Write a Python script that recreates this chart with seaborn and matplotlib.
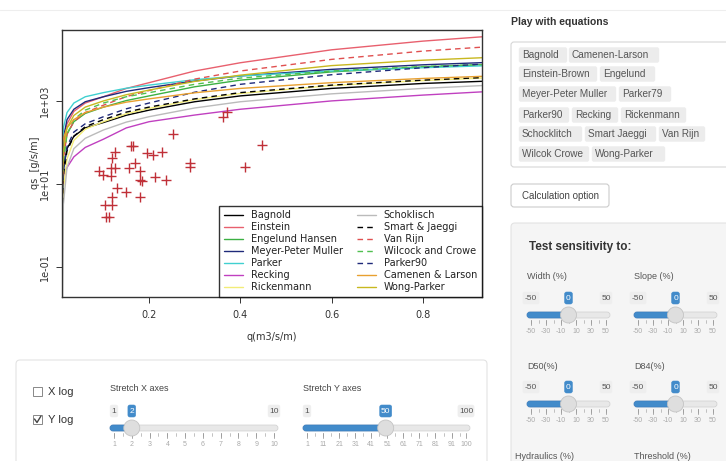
import matplotlib
matplotlib.use("Agg")
import matplotlib.pyplot as plt
from matplotlib.patches import FancyBboxPatch, Rectangle, Circle
from matplotlib.ticker import NullLocator
import pandas as pd
import seaborn as sns

W, H = 726, 461

q_grid = [0.009, 0.012, 0.02, 0.035, 0.06, 0.1, 0.15, 0.2, 0.3, 0.4, 0.6, 0.8, 0.95]

# sediment transport qs (g/s/m) for each equation
bagnold = [7.9, 25, 71, 141, 224, 302, 452, 600, 955, 1320, 2000, 2630, 3020]
einstein = [6.3, 79, 280, 560, 890, 1260, 1995, 2750, 5250, 8300, 17000, 27500, 36300]
engelund_hansen = [10, 50, 158, 316, 500, 710, 1020, 1320, 2190, 3160, 5000, 6600, 7600]
meyer_peter_muller = [16, 126, 355, 630, 955, 1260, 1700, 2090, 3020, 4000, 5750, 7400, 8500]
parker = [40, 224, 525, 890, 1260, 1585, 2020, 2400, 3240, 4000, 5250, 6300, 7100]
recking = [7.9, 14, 25, 45, 76, 120, 224, 316, 457, 630, 1000, 1380, 1700]
rickenmann = [0.5, 7.9, 40, 112, 209, 316, 490, 660, 1070, 1510, 2340, 3090, 3630]
schoklisch = [0.001, 3.2, 25, 71, 126, 200, 309, 417, 676, 955, 1480, 2000, 2400]
smart_jaeggi = [2.0, 16, 63, 141, 240, 355, 537, 710, 1120, 1585, 2400, 3160, 3720]
van_rijn = [3.2, 40, 160, 316, 525, 790, 1270, 1780, 3350, 5250, 10000, 15800, 20400]
wilcock_crowe = [4.0, 32, 158, 355, 600, 890, 1260, 1580, 2510, 3550, 5250, 6760, 7600]
parker90 = [2.5, 20, 79, 178, 282, 417, 646, 890, 1620, 2510, 4270, 6300, 7940]
camenen_larson = [63, 126, 224, 355, 525, 710, 933, 1120, 1570, 2000, 2750, 3470, 3980]
wong_parker = [6.3, 63, 224, 447, 710, 1000, 1410, 1820, 2950, 4170, 7080, 9550, 11200]

# field measurements (red crosses)
obs_q = [0.091, 0.100, 0.116, 0.116, 0.125, 0.118, 0.125, 0.165, 0.160, 0.169,
         0.157, 0.180, 0.180, 0.184, 0.180, 0.195, 0.209, 0.228, 0.213, 0.237,
         0.253, 0.289, 0.289, 0.363, 0.371, 0.411, 0.448, 0.129, 0.149, 0.118,
         0.103, 0.118, 0.105, 0.113]
obs_qs = [20, 16.6, 15.5, 24, 24, 42, 60, 83, 83, 32,
          24, 20, 12.6, 11.5, 4.9, 55, 50, 58, 15, 12.3,
          158, 32, 25, 417, 550, 26, 87, 8.1, 6.5, 4.9,
          3.2, 3.2, 1.6, 1.6]

# name, values, colour, dashed
equations = [
    ("Bagnold", bagnold, "#000000", False),
    ("Einstein", einstein, "#E8606E", False),
    ("Engelund Hansen", engelund_hansen, "#3CB043", False),
    ("Meyer-Peter Muller", meyer_peter_muller, "#1F2A7A", False),
    ("Parker", parker, "#40D0D0", False),
    ("Recking", recking, "#C040C0", False),
    ("Rickenmann", rickenmann, "#F2EC78", False),
    ("Schoklisch", schoklisch, "#BBBBBB", False),
    ("Smart & Jaeggi", smart_jaeggi, "#000000", True),
    ("Van Rijn", van_rijn, "#E05050", True),
    ("Wilcock and Crowe", wilcock_crowe, "#50C050", True),
    ("Parker90", parker90, "#1F2A7A", True),
    ("Camenen & Larson", camenen_larson, "#E8A030", False),
    ("Wong-Parker", wong_parker, "#C8B820", False),
]

sns.set_theme(style="white")
plt.rcParams['font.family'] = ['DejaVu Sans']

fig = plt.figure(figsize=(W / 100, H / 100), dpi=100)

# full-figure axes in pixel units for the app widgets around the plot
ui = fig.add_axes([0, 0, 1, 1])
ui.set_xlim(0, W)
ui.set_ylim(H, 0)
ui.axis('off')

UIFONT = ['Liberation Sans', 'DejaVu Sans']


def rbox(x0, y0, x1, y1, fc, ec, r=3, lw=0.8, z=1):
    ui.add_patch(FancyBboxPatch((x0, y0), x1 - x0, y1 - y0,
                                boxstyle=f"round,pad=0,rounding_size={r}",
                                fc=fc, ec=ec, lw=lw, zorder=z))


def label(x, y, s, size=7.5, color='#333333', ha='left', weight='normal', z=3):
    ui.text(x, y, s, fontsize=size, color=color, ha=ha, va='center',
            fontweight=weight, family=UIFONT, zorder=z)


def slider(x0, x1, ybar, vmin, vmax, val, ticks, minor_step):
    a, b = x0 + 4, x1 - 4
    pos = lambda v: a + (v - vmin) / (vmax - vmin) * (b - a)
    rbox(x0, ybar - 3, x1, ybar + 3, '#e8e8e8', '#cfcfcf', r=3, lw=0.5, z=2)
    kx = pos(val)
    rbox(x0, ybar - 3, kx, ybar + 3, '#428bca', '#3b7dc0', r=3, lw=0.5, z=2)
    ui.add_patch(Circle((kx, ybar), 8, fc='#dedede', ec='#c4c4c4', lw=0.6, zorder=4))
    # min / max / value badges
    for v, fc, tc in [(vmin, '#eeeeee', '#555555'), (vmax, '#eeeeee', '#555555'),
                      (val, '#428bca', 'white')]:
        x = pos(v)
        s = str(v)
        w = 3.5 + 4.2 * len(s)
        rbox(x - w / 2, ybar - 23, x + w / 2, ybar - 11, fc, fc, r=2, lw=0.4, z=3)
        label(x, ybar - 17, s, size=6, color=tc, ha='center', z=5)
    # tick marks and labels
    v = vmin
    while v <= vmax:
        ui.plot([pos(v), pos(v)], [ybar + 5, ybar + 8], color='#aaaaaa', lw=0.5, zorder=2)
        v += minor_step
    for t in ticks:
        ui.plot([pos(t), pos(t)], [ybar + 5, ybar + 10], color='#999999', lw=0.6, zorder=2)
        label(pos(t), ybar + 16, str(t), size=5, color='#aaaaaa', ha='center')


# faint top rule
ui.plot([0, W], [10, 10], color='#eeeeee', lw=0.8)

# right column: equation picker
label(511, 22, "Play with equations", size=7.5, color='#333333', weight='bold')
rbox(511, 42, 740, 167, 'white', '#d6d6d6', r=3, lw=0.8)
tags = [
    [("Bagnold", 519, 567), ("Camenen-Larson", 569, 659)],
    [("Einstein-Brown", 519, 597), ("Engelund", 600, 655)],
    [("Meyer-Peter Muller", 519, 616), ("Parker79", 619, 671)],
    [("Parker90", 519, 569), ("Recking", 572, 618), ("Rickenmann", 621, 686)],
    [("Schocklitch", 519, 582), ("Smart Jaeggi", 585, 656), ("Van Rijn", 659, 705)],
    [("Wilcok Crowe", 519, 589), ("Wong-Parker", 592, 665)],
]
for row, yc in zip(tags, [55, 74, 94, 115, 134, 154]):
    for s, xa, xb in row:
        rbox(xa, yc - 7.5, xb, yc + 7.5, '#ececec', '#ececec', r=2, lw=0.3, z=2)
        label(xa + 3, yc, s, size=7.2, color='#555555')

rbox(511, 184, 609, 207, 'white', '#cccccc', r=3, lw=0.8)
label(560, 196, "Calculation option", size=7, color='#444444', ha='center')

# sensitivity panel
rbox(511, 223, 745, 475, '#f5f5f5', '#e3e3e3', r=4, lw=0.8, z=0)
label(529, 247, "Test sensitivity to:", size=8.5, color='#333333', weight='bold')
sens = [("Width (%)", 527, 276, 315), ("Slope (%)", 634, 276, 315),
        ("D50(%)", 527, 366, 404), ("D84(%)", 634, 366, 404)]
for name, x0, ylab, ybar in sens:
    label(x0, ylab, name, size=6.5, color='#555555')
    slider(x0, x0 + 83, ybar, -50, 50, 0, [-50, -30, -10, 10, 30, 50], 10)
label(515, 456, "Hydraulics (%)", size=6.5, color='#555555')
label(634, 456, "Threshold (%)", size=6.5, color='#555555')

# bottom panel: axis options
rbox(16, 360, 487, 480, 'white', '#e3e3e3', r=4, lw=0.8, z=0)
ui.add_patch(Rectangle((33, 387), 9, 9, fc='white', ec='#888888', lw=0.7, zorder=3))
label(48, 392, "X log", size=8, color='#333333')
ui.add_patch(Rectangle((33, 415), 9, 9, fc='white', ec='#888888', lw=0.7, zorder=3))
ui.plot([34.5, 37, 41], [419, 422.5, 416], color='#444444', lw=1.0, zorder=4)
label(48, 420, "Y log", size=8, color='#333333')

label(110, 388, "Stretch X axes", size=6.5, color='#444444')
slider(110, 278, 428, 1, 10, 2, list(range(1, 11)), 0.5)
label(303, 388, "Stretch Y axes", size=6.5, color='#444444')
slider(303, 470, 428, 1, 100, 50, [1, 11, 21, 31, 41, 51, 61, 71, 81, 91, 100], 5)

# the bedload plot itself
ax = fig.add_axes([62 / W, 1 - 297 / H, 420 / W, 267 / H])
ax.set_facecolor('white')

for name, vals, col, dashed in equations:
    ls = (0, (4, 3)) if dashed else '-'
    sns.lineplot(x=q_grid, y=vals, color=col, linestyle=ls, lw=1.0,
                 label=name, ax=ax, zorder=2)

sns.scatterplot(x=obs_q, y=obs_qs, marker='+', color='#C03038', s=42,
                linewidth=1.0, ax=ax, zorder=3)

ax.set_yscale('log')
ax.set_xlim(0.009, 0.93)
ax.set_ylim(0.019, 51000)
ax.set_xticks([0.2, 0.4, 0.6, 0.8])
ax.set_xticklabels(['0.2', '0.4', '0.6', '0.8'])
ax.set_yticks([0.1, 10, 1000])
ax.set_yticklabels(['1e-01', '1e+01', '1e+03'], rotation=90, va='center')
ax.yaxis.set_minor_locator(NullLocator())
ax.tick_params(axis='both', direction='out', length=4, width=0.7,
               labelsize=7, colors='#333333', pad=5, left=True, bottom=True)
for sp in ax.spines.values():
    sp.set_color('#333333')
    sp.set_linewidth(1.0)
ax.set_xlabel('')
ax.set_ylabel('')

leg = ax.legend(loc='lower right', ncol=2, fontsize=7, frameon=True,
                fancybox=False, edgecolor='black', borderaxespad=0,
                handlelength=2.0, labelspacing=0.2, columnspacing=1.4,
                borderpad=0.5, handletextpad=0.8)
leg.get_frame().set_linewidth(1.0)
for t in leg.get_texts():
    t.set_color('#222222')

fig.text(35 / W, 1 - 163 / H, "qs  [g/s/m]", rotation=90, fontsize=7,
         color='#333333', ha='center', va='center')
fig.text(272 / W, 1 - 337 / H, "q(m3/s/m)", fontsize=7, color='#333333',
         ha='center', va='center')

fig.savefig("out.png", dpi=100)
